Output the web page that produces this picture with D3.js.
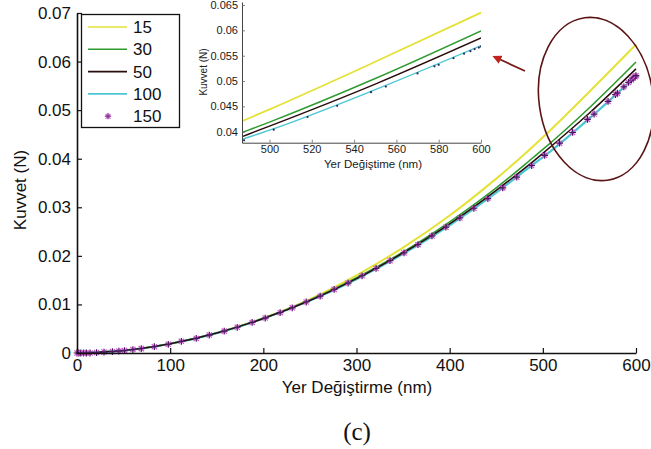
<!DOCTYPE html>
<html>
<head>
<meta charset="utf-8">
<script src="https://cdn.jsdelivr.net/npm/d3@7"></script>
<style>
  html, body { margin: 0; padding: 0; background: #fff; }
  svg { display: block; }
  text { font-family: "Liberation Sans", Arial, sans-serif; }
</style>
</head>
<body>
<svg id="chart" width="651" height="449"></svg>
<script>
// Displacement (nm) sample points for the simulated curves
const displacement = [0, 50, 100, 150, 200, 250, 300, 350, 400, 450, 490, 500, 550, 600];

// Force (N) for each mesh setting
const force15  = [0, 0.0005, 0.0019, 0.0041, 0.0072, 0.0111, 0.0160, 0.0217, 0.0283, 0.0359, 0.0426, 0.0444, 0.0538, 0.0635];
const force30  = [0, 0.0005, 0.0019, 0.0041, 0.0071, 0.0109, 0.0155, 0.0208, 0.0270, 0.0340, 0.0403, 0.0419, 0.0505, 0.0599];
const force50  = [0, 0.0005, 0.0019, 0.0041, 0.0071, 0.0108, 0.0153, 0.0206, 0.0266, 0.0335, 0.0395, 0.0411, 0.0494, 0.0585];
const force100 = [0, 0.0005, 0.0019, 0.0041, 0.0071, 0.0108, 0.0152, 0.0204, 0.0263, 0.0330, 0.0389, 0.0403, 0.0483, 0.0570];

// Series 150 is drawn as markers at its own solver steps
const displacement150 = [0, 2, 4, 7, 10, 14, 21, 29, 38, 45, 51, 60, 69, 83, 98, 112, 128, 142, 158, 172,
  188, 202, 218, 231, 246, 261, 276, 291, 306, 321, 336, 351, 366, 381, 396, 411, 426, 441, 457, 472,
  488, 502, 518, 532, 548, 555, 570, 578, 580, 587, 592, 595, 597, 599, 600];
const force150 = [0, 0, 0, 0, 0, 0, 0.0001, 0.0002, 0.0003, 0.0004, 0.0005, 0.0007, 0.0009, 0.0013, 0.0018, 0.0024, 0.0030, 0.0037, 0.0045, 0.0053,
  0.0063, 0.0072, 0.0083, 0.0093, 0.0105, 0.0117, 0.0131, 0.0144, 0.0159, 0.0174, 0.0190, 0.0206, 0.0223, 0.0241, 0.0259, 0.0278, 0.0298, 0.0318, 0.0340, 0.0362,
  0.0386, 0.0407, 0.0432, 0.0454, 0.0481, 0.0492, 0.0518, 0.0532, 0.0535, 0.0548, 0.0557, 0.0562, 0.0566, 0.0569, 0.0571];

const seriesNames = ["15", "30", "50", "100", "150"];
const seriesColors = ["#e4e236", "#2f9a2f", "#2a0c0c", "#4cc6d2", "#cc3fcc"];

const xTicksMain = [0, 100, 200, 300, 400, 500, 600];
const yTicksMain = [0, 0.01, 0.02, 0.03, 0.04, 0.05, 0.06, 0.07];
const xTicksInset = [500, 520, 540, 560, 580, 600];
const yTicksInset = [0.04, 0.045, 0.05, 0.055, 0.06, 0.065];

const svg = d3.select("#chart");

const lineSeries = [
  { name: "15", values: force15, color: seriesColors[0], width: 2 },
  { name: "30", values: force30, color: seriesColors[1], width: 1.6 },
  { name: "100", values: force100, color: seriesColors[3], width: 2.2 },
  { name: "50", values: force50, color: seriesColors[2], width: 1.5 }
];
const markerData = displacement150.map((d, i) => [d, force150[i]]);

// ---------- main axes ----------
const x = d3.scaleLinear().domain([0, 600]).range([77, 636]);
const y = d3.scaleLinear().domain([0, 0.07]).range([353, 13]);

const line = d3.line().x(d => x(d[0])).y(d => y(d[1])).curve(d3.curveMonotoneX);

const main = svg.append("g");
lineSeries.forEach(s => {
  main.append("path")
    .datum(displacement.map((d, i) => [d, s.values[i]]))
    .attr("fill", "none")
    .attr("stroke", s.color)
    .attr("stroke-width", s.width)
    .attr("d", line);
});

function star(sel, size, colA, colB, w) {
  sel.each(function() {
    const g = d3.select(this);
    g.append("path").attr("d", `M${-size},${-size}L${size},${size}M${-size},${size}L${size},${-size}`)
      .attr("stroke", colA).attr("stroke-width", w);
    g.append("path").attr("d", `M${-size * 1.3},0H${size * 1.3}M0,${-size * 1.3}V${size * 1.3}`)
      .attr("stroke", colB).attr("stroke-width", w);
  });
}

main.append("g").selectAll("g")
  .data(markerData)
  .join("g")
  .attr("transform", d => `translate(${x(d[0])},${y(d[1])})`)
  .call(star, 2.6, "#d24fd2", "#4a1860", 1.2);

const xAxis = d3.axisBottom(x).tickValues(xTicksMain).tickSizeInner(-5).tickSizeOuter(0).tickPadding(6)
  .tickFormat(d3.format("d"));
const yAxis = d3.axisLeft(y).tickValues(yTicksMain).tickSizeInner(-5).tickSizeOuter(0).tickPadding(6)
  .tickFormat(d => d === 0 ? "0" : d3.format(".2f")(d));

const gx = svg.append("g").attr("transform", "translate(0,353)").call(xAxis);
const gy = svg.append("g").attr("transform", "translate(77,0)").call(yAxis);
[gx, gy].forEach(g => {
  g.select(".domain").attr("stroke", "#111").attr("stroke-width", 1.6);
  g.selectAll(".tick line").attr("stroke", "#111").attr("stroke-width", 1.2);
  g.selectAll(".tick text").attr("fill", "#111").style("font-size", "17px")
    .style("font-family", "'Liberation Sans', Arial, sans-serif");
});

svg.append("text")
  .attr("x", 357).attr("y", 393)
  .attr("text-anchor", "middle")
  .style("font-size", "17px").attr("fill", "#111")
  .text("Yer Değiştirme (nm)");

svg.append("text")
  .attr("transform", "translate(26,190) rotate(-90)")
  .attr("text-anchor", "middle")
  .style("font-size", "17px").attr("fill", "#111")
  .text("Kuvvet (N)");

svg.append("text")
  .attr("x", 357).attr("y", 440)
  .attr("text-anchor", "middle")
  .style("font-family", "'Liberation Serif', 'Times New Roman', serif")
  .style("font-size", "25px").attr("fill", "#111")
  .text("(c)");

// ---------- legend ----------
const legend = svg.append("g");
legend.append("rect")
  .attr("x", 81.5).attr("y", 14.5).attr("width", 98).attr("height", 113)
  .attr("fill", "#fff").attr("stroke", "#111").attr("stroke-width", 1.3);
seriesNames.forEach((name, i) => {
  const ly = 27 + i * 22.3;
  if (name === "150") {
    legend.append("g").attr("transform", `translate(108,${ly})`).call(star, 2.4, "#d24fd2", "#7a2a8a", 1.2);
  } else {
    legend.append("line").attr("x1", 88).attr("x2", 127).attr("y1", ly).attr("y2", ly)
      .attr("stroke", seriesColors[i]).attr("stroke-width", 1.6);
  }
  legend.append("text").attr("x", 133).attr("y", ly + 6)
    .style("font-size", "17px").attr("fill", "#111").text(name);
});

// ---------- inset ----------
const xi = d3.scaleLinear().domain([487, 600]).range([242, 481]);
const yi = d3.scaleLinear().domain([0.03783, 0.0656]).range([142.7, 2]);
const lineInset = d3.line().x(d => xi(d[0])).y(d => yi(d[1])).curve(d3.curveMonotoneX);

svg.append("clipPath").attr("id", "insetClip")
  .append("rect").attr("x", 242).attr("y", 0).attr("width", 239).attr("height", 142.7);

const inset = svg.append("g").attr("clip-path", "url(#insetClip)");
lineSeries.forEach(s => {
  inset.append("path")
    .datum(displacement.map((d, i) => [d, s.values[i]]))
    .attr("fill", "none")
    .attr("stroke", s.color)
    .attr("stroke-width", s.name === "15" ? 1.8 : 1.4)
    .attr("d", lineInset);
});
inset.append("g").selectAll("circle")
  .data(markerData.filter(d => d[0] >= 487))
  .join("circle")
  .attr("cx", d => xi(d[0])).attr("cy", d => yi(d[1]) + 1.5)
  .attr("r", 1.1).attr("fill", "#2a2a60");

const xAxisI = d3.axisBottom(xi).tickValues(xTicksInset).tickSizeInner(-3).tickSizeOuter(0).tickPadding(3);
const yAxisI = d3.axisLeft(yi).tickValues(yTicksInset).tickSizeInner(-3).tickSizeOuter(0).tickPadding(4)
  .tickFormat(d => d3.format("")(+d.toFixed(3)));
const gxi = svg.append("g").attr("transform", "translate(0,142.7)").call(xAxisI);
const gyi = svg.append("g").attr("transform", "translate(242,0)").call(yAxisI);
[gxi, gyi].forEach(g => {
  g.select(".domain").attr("stroke", "#444").attr("stroke-width", 1);
  g.selectAll(".tick line").attr("stroke", "#666").attr("stroke-width", 0.8);
  g.selectAll(".tick text").attr("fill", "#1a1a1a").style("font-size", "11px")
    .style("font-family", "'Liberation Sans', Arial, sans-serif");
});

svg.append("text")
  .attr("x", 373).attr("y", 168)
  .attr("text-anchor", "middle")
  .style("font-size", "11.5px").attr("fill", "#1a1a1a")
  .text("Yer Değiştime (nm)");
svg.append("text")
  .attr("transform", "translate(207,72) rotate(-90)")
  .attr("text-anchor", "middle")
  .style("font-size", "10px").attr("fill", "#222")
  .text("Kuvvet (N)");

// ---------- callout: ellipse and arrow ----------
svg.append("ellipse")
  .attr("cx", 596).attr("cy", 99).attr("rx", 57).attr("ry", 82)
  .attr("transform", "rotate(-8,596,99)")
  .attr("fill", "none").attr("stroke", "#5a1414").attr("stroke-width", 1.6);

svg.append("defs").append("marker")
  .attr("id", "arrowHead").attr("viewBox", "0 0 10 10")
  .attr("refX", 2).attr("refY", 5).attr("markerWidth", 5).attr("markerHeight", 5)
  .attr("orient", "auto-start-reverse")
  .append("path").attr("d", "M0,0L10,5L0,10z").attr("fill", "#c0221c");
svg.append("line")
  .attr("x1", 525).attr("y1", 71).attr("x2", 499).attr("y2", 59)
  .attr("stroke", "#7a1a1a").attr("stroke-width", 1.8)
  .attr("marker-end", "url(#arrowHead)");
</script>
</body>
</html>
